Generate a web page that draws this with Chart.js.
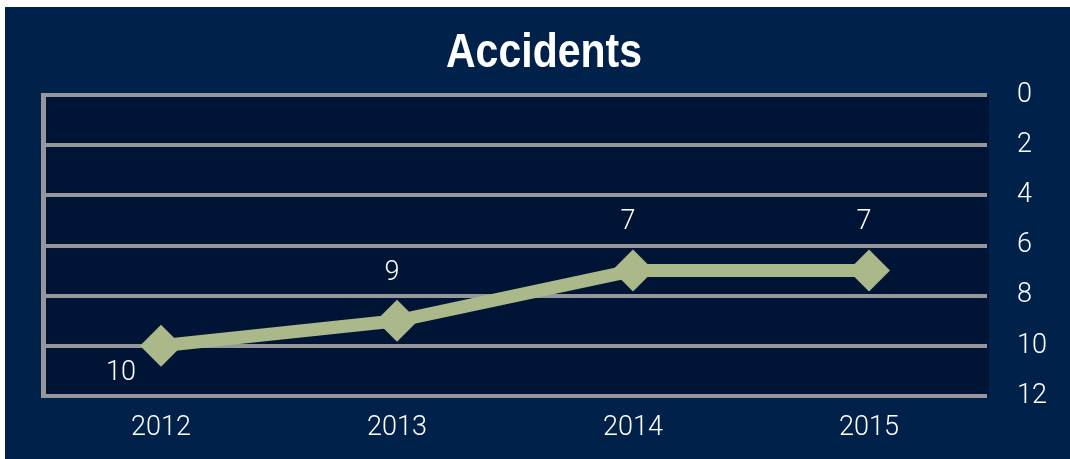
<!DOCTYPE html>
<html>
<head>
<meta charset="utf-8">
<script src="https://cdn.jsdelivr.net/npm/chart.js@4/dist/chart.umd.min.js"></script>
<style>
  html, body { margin: 0; padding: 0; background: #ffffff; }
  #wrap { position: absolute; left: 5px; top: 7px; width: 1065px; height: 452px; background: #00224a; }
  canvas { display: block; }
</style>
</head>
<body>
<div id="wrap"><canvas id="accChart" width="1065" height="452"></canvas></div>
<script>
// ─── Data ────────────────────────────────────────────
const years     = ['2012', '2013', '2014', '2015'];
const accidents = [10, 9, 7, 7];
const yTicks    = [0, 2, 4, 6, 8, 10, 12];
const titleText = 'Accidents';

const COLORS = { navy: '#00224a', plot: '#001535', grid: '#97979b', line: '#aab88a', text: '#ffffff' };
const TICK_FONT = { family: "Roboto, 'Liberation Sans', sans-serif", size: 27, weight: '300' };
const fontStr = f => `${f.weight} ${f.size}px ${f.family}`;

// plot-area background + left border line
const plotBg = {
  id: 'plotBg',
  beforeDraw(chart) {
    const { ctx, chartArea: a } = chart;
    ctx.save();
    ctx.fillStyle = COLORS.plot;
    ctx.fillRect(a.left, a.top, a.right - a.left + 2, a.bottom - a.top);
    ctx.restore();
  },
  afterDraw(chart) {
    const { ctx, chartArea: a } = chart;
    ctx.save();
    ctx.fillStyle = COLORS.grid;
    ctx.fillRect(a.left - 2, a.top - 2, 5, a.bottom - a.top + 4);
    ctx.restore();
  }
};

// right-hand value axis labels, placed off the y scale
const yLabels = {
  id: 'yLabels',
  afterDraw(chart) {
    const { ctx } = chart;
    const y = chart.scales.y;
    ctx.save();
    ctx.fillStyle = COLORS.text;
    ctx.font = fontStr(TICK_FONT);
    ctx.textAlign = 'left';
    ctx.textBaseline = 'middle';
    yTicks.forEach(v => ctx.fillText(String(v), y.left + 30, y.getPixelForValue(v)));
    ctx.restore();
  }
};

// condensed bold title (no narrow font installed, so squeeze it)
const narrowTitle = {
  id: 'narrowTitle',
  afterDraw(chart) {
    const { ctx } = chart;
    ctx.save();
    ctx.font = "bold 49px 'Liberation Sans', Arial, sans-serif";
    const w = ctx.measureText(titleText).width;
    ctx.translate(539, 60);
    ctx.scale(196 / w, 1);
    ctx.fillStyle = COLORS.text;
    ctx.textAlign = 'center';
    ctx.textBaseline = 'alphabetic';
    ctx.fillText(titleText, 0, 0);
    ctx.restore();
  }
};

// value labels next to the points
const valueLabels = {
  id: 'valueLabels',
  afterDatasetsDraw(chart) {
    const { ctx } = chart;
    const meta = chart.getDatasetMeta(0);
    ctx.save();
    ctx.fillStyle = COLORS.text;
    ctx.font = fontStr(TICK_FONT);
    ctx.textAlign = 'center';
    ctx.textBaseline = 'middle';
    meta.data.forEach((pt, i) => {
      const v = chart.data.datasets[0].data[i];
      // first point label sits below-left, the rest above
      const dx = i === 0 ? -40 : -5;
      const dy = i === 0 ? 27 : -48;
      ctx.fillText(String(v), pt.x + dx, pt.y + dy);
    });
    ctx.restore();
  }
};

new Chart(document.getElementById('accChart'), {
  type: 'line',
  data: {
    labels: years,
    datasets: [{
      data: accidents,
      borderColor: COLORS.line,
      backgroundColor: COLORS.line,
      borderWidth: 13,
      pointStyle: 'rectRot',
      pointRadius: 21,
      pointBorderWidth: 0,
      pointBackgroundColor: COLORS.line,
      tension: 0,
      fill: false,
    }],
  },
  options: {
    responsive: false,
    animation: false,
    layout: { autoPadding: false, padding: { left: 38, right: 25, bottom: 14, top: 88 } },
    scales: {
      x: {
        offset: true,
        afterFit: scale => { scale.height = 49; },
        grid: { display: false, drawTicks: false },
        border: { display: false },
        ticks: { color: COLORS.text, font: TICK_FONT, padding: 16, maxRotation: 0 },
      },
      y: {
        position: 'right',
        reverse: true,
        min: yTicks[0],
        max: yTicks[yTicks.length - 1],
        afterBuildTicks: scale => { scale.ticks = yTicks.map(v => ({ value: v })); },
        afterFit: scale => { scale.width = 58; },
        grid: { color: COLORS.grid, lineWidth: 4, drawTicks: false },
        border: { display: false },
        ticks: { display: false },
      },
    },
    plugins: {
      legend: { display: false },
      tooltip: { enabled: false },
      title: { display: false },
    },
  },
  plugins: [plotBg, yLabels, narrowTitle, valueLabels],
});
</script>
</body>
</html>
